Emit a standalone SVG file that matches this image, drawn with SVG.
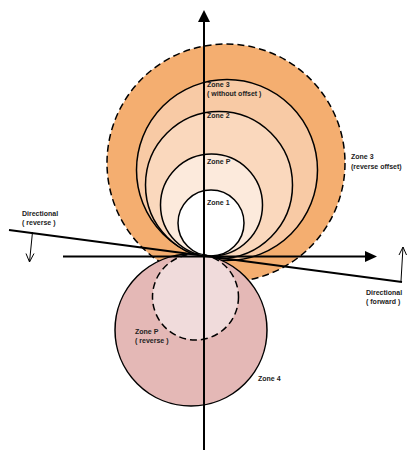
<svg xmlns="http://www.w3.org/2000/svg" width="408" height="450" viewBox="0 0 408 450">
<defs>
<style>
.zone{stroke:#000;stroke-width:1.5}
.dash{stroke-dasharray:7 4}
.ax{stroke:#000;stroke-width:2;fill:none}
.thin{stroke:#000;stroke-width:1;fill:none}
text{font-family:"Liberation Sans",Arial,sans-serif;font-size:7px;font-weight:bold;fill:#222}
</style>
</defs>
<rect width="408" height="450" fill="#fff"/>
<g id="zone3-reverse-offset"><circle class="zone dash" cx="226" cy="163" r="119" fill="#F4AE70"/></g>
<g id="zone3"><circle class="zone" cx="227" cy="170" r="90.5" fill="#F8CAA5"/></g>
<g id="zone2"><circle class="zone" cx="219" cy="185" r="73.5" fill="#FAD8BD"/></g>
<g id="zoneP"><circle class="zone" cx="211.5" cy="205" r="51" fill="#FCEADC"/></g>
<g id="zone1"><circle class="zone" cx="211" cy="223" r="33" fill="#fff"/></g>
<g id="zone4"><circle class="zone" cx="191" cy="330" r="76" fill="#E4B8B6"/></g>
<g id="zoneP-reverse"><circle class="zone dash" cx="195.5" cy="297" r="43" fill="#F0DBDB"/></g>
<g id="connectors">
<line class="ax" x1="204" y1="20" x2="204" y2="450"/>
<polygon points="204,10 198,22 210,22" fill="#000"/>
<line class="ax" x1="63" y1="256.5" x2="366" y2="256.5"/>
<polygon points="377,256.5 365,251 365,262" fill="#000"/>
<line class="ax" x1="9" y1="230" x2="402" y2="282"/>
<polyline class="thin" points="32.5,232 29.5,262"/>
<polyline class="thin" points="26,253.5 29.5,262 34,253.5"/>
<polyline class="thin" points="401,281 403,247"/>
<polyline class="thin" points="399,255 403,247 406.5,255"/>
</g>
<g id="labels">
<text x="207" y="87">Zone 3</text>
<text x="207" y="96">( without offset )</text>
<text x="207" y="118">Zone 2</text>
<text x="207" y="164">Zone P</text>
<text x="207" y="205">Zone 1</text>
<text x="351" y="159">Zone 3</text>
<text x="351" y="168.5">(reverse offset)</text>
<text x="22" y="215.5">Directional</text>
<text x="22" y="224.5">( reverse )</text>
<text x="366" y="294.5">Directional</text>
<text x="366" y="303.5">( forward )</text>
<text x="135" y="333.5">Zone P</text>
<text x="135" y="342.5">( reverse )</text>
<text x="258" y="381">Zone 4</text>
</g>
</svg>
